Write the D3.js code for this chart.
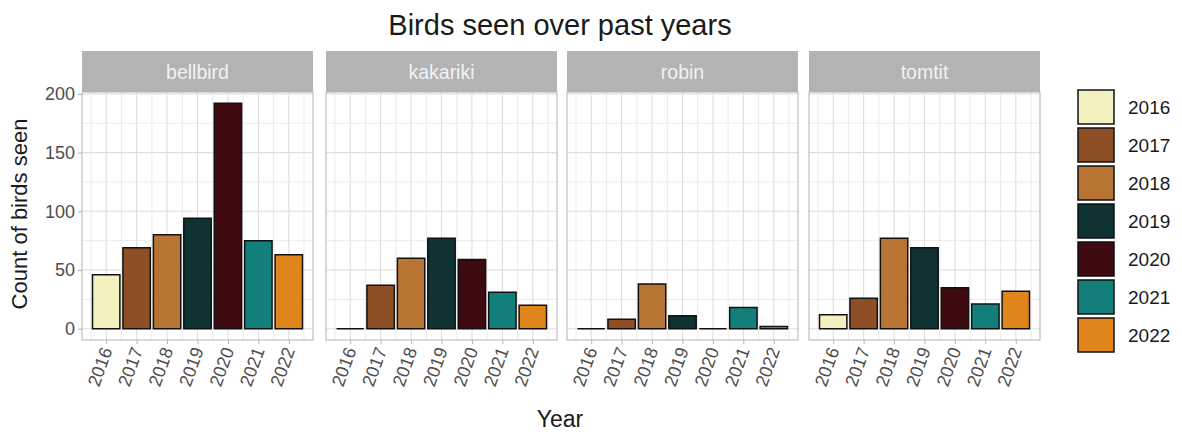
<!DOCTYPE html>
<html><head><meta charset="utf-8">
<script src="https://cdn.jsdelivr.net/npm/d3@7"></script>
<style>body{margin:0;background:#fff;} text{font-family:"Liberation Sans",Arial,sans-serif;}</style>
</head><body>
<svg id="chart" width="1182" height="432"></svg>
<script>
const birds = ["bellbird", "kakariki", "robin", "tomtit"];
const years = [2016, 2017, 2018, 2019, 2020, 2021, 2022];
const bellbird = [46, 69, 80, 94, 192, 75, 63];
const kakariki = [0, 37, 60, 77, 59, 31, 20];
const robin = [0, 8, 38, 11, 0, 18, 2];
const tomtit = [12, 26, 77, 69, 35, 21, 32];
const yearColors = ["#f3f0bf", "#8e4f26", "#b87433", "#0f3232", "#3d0b10", "#127f7b", "#e0841c"];
const yTicks = [0, 50, 100, 150, 200];
const yMinor = [25, 75, 125, 175];
const seriesByBird = {bellbird, kakariki, robin, tomtit};

const svg = d3.select("#chart");
const panelLeft = [82, 326, 567, 809];
const panelW = 231;
const stripTop = 51, panelTop = 92, panelBottom = 340;

const barW = 0.9;
const xmin = years[0] - barW/2, xmax = years[years.length-1] + barW/2;
const xpad = (xmax - xmin) * 0.05;
const allVals = [].concat(bellbird, kakariki, robin, tomtit);
const ymax = d3.max(allVals), ypad = ymax * 0.05;
const y = d3.scaleLinear().domain([-ypad, ymax + ypad]).range([panelBottom, panelTop]);
const color = d3.scaleOrdinal().domain(years).range(yearColors);

// title
svg.append("text").attr("x", 560).attr("y", 35).attr("text-anchor", "middle")
  .attr("font-size", 29).attr("fill", "#1a1a1a").text("Birds seen over past years");

birds.forEach((b, i) => {
  const x = d3.scaleLinear().domain([xmin - xpad, xmax + xpad]).range([panelLeft[i], panelLeft[i] + panelW]);
  const g = svg.append("g");
  // strip
  g.append("rect").attr("x", panelLeft[i]).attr("y", stripTop).attr("width", panelW).attr("height", panelTop - stripTop).attr("fill", "#b3b3b3");
  g.append("text").attr("x", panelLeft[i] + panelW/2).attr("y", (stripTop + panelTop)/2 + 7).attr("text-anchor", "middle")
    .attr("font-size", 19.5).attr("fill", "#f2f2f2").text(b);
  // minor grid
  const xMinor = years.map(d => d - 0.5).concat([years[years.length-1] + 0.5]);
  g.selectAll(".ymin").data(yMinor).join("line").attr("x1", panelLeft[i]).attr("x2", panelLeft[i] + panelW)
    .attr("y1", d => y(d)).attr("y2", d => y(d)).attr("stroke", "#e6e6e6").attr("stroke-width", 0.8);
  g.selectAll(".xmin").data(xMinor).join("line").attr("y1", panelTop).attr("y2", panelBottom)
    .attr("x1", d => x(d)).attr("x2", d => x(d)).attr("stroke", "#e6e6e6").attr("stroke-width", 0.8);
  // major grid
  g.selectAll(".ymaj").data(yTicks).join("line").attr("x1", panelLeft[i]).attr("x2", panelLeft[i] + panelW)
    .attr("y1", d => y(d)).attr("y2", d => y(d)).attr("stroke", "#dedede").attr("stroke-width", 1.1);
  g.selectAll(".xmaj").data(years).join("line").attr("y1", panelTop).attr("y2", panelBottom)
    .attr("x1", d => x(d)).attr("x2", d => x(d)).attr("stroke", "#dedede").attr("stroke-width", 1.1);
  // bars (paths so zero-height bars still show their outline)
  const vals = seriesByBird[b];
  g.selectAll(".bar").data(years.map((yr, k) => ({yr, v: vals[k]}))).join("path")
    .attr("d", d => {
      const x0 = x(d.yr - barW/2), x1 = x(d.yr + barW/2), y0 = y(0), y1 = y(d.v);
      return `M${x0},${y0}L${x0},${y1}L${x1},${y1}L${x1},${y0}Z`;
    })
    .attr("fill", d => color(d.yr)).attr("stroke", "#111").attr("stroke-width", 1.5);
  // panel border
  g.append("rect").attr("x", panelLeft[i]).attr("y", panelTop).attr("width", panelW).attr("height", panelBottom - panelTop)
    .attr("fill", "none").attr("stroke", "#b3b3b3").attr("stroke-width", 1);
  // x axis
  const xa = g.append("g").attr("transform", `translate(0,${panelBottom})`)
    .call(d3.axisBottom(x).tickValues(years).tickFormat(d3.format("d")).tickSize(4).tickPadding(3));
  xa.select(".domain").remove();
  xa.selectAll(".tick line").attr("stroke", "#b3b3b3");
  xa.selectAll(".tick text").attr("font-size", 18).attr("fill", "#4d4d4d")
    .attr("text-anchor", "end").attr("dy", "0.35em")
    .attr("transform", "translate(0,8) rotate(-70)").attr("x", 0).attr("y", 0);
  if (i === 0) {
    const ya = g.append("g").attr("transform", `translate(${panelLeft[i]},0)`)
      .call(d3.axisLeft(y).tickValues(yTicks).tickSize(4).tickPadding(3));
    ya.select(".domain").remove();
    ya.selectAll(".tick line").attr("stroke", "#b3b3b3");
    ya.selectAll(".tick text").attr("font-size", 18).attr("fill", "#4d4d4d");
  }
});

// axis titles
svg.append("text").attr("x", 560).attr("y", 427).attr("text-anchor", "middle").attr("font-size", 23).attr("fill", "#1a1a1a").text("Year");
svg.append("text").attr("transform", `translate(27,${(panelTop+panelBottom)/2 - 2}) rotate(-90)`).attr("text-anchor", "middle")
  .attr("font-size", 22).attr("fill", "#1a1a1a").text("Count of birds seen");

// legend
const lg = svg.append("g");
years.forEach((yr, k) => {
  const top = 90 + k * 38;
  lg.append("rect").attr("x", 1078).attr("y", top).attr("width", 36).attr("height", 34)
    .attr("fill", color(yr)).attr("stroke", "#111").attr("stroke-width", 1.5);
  lg.append("text").attr("x", 1128).attr("y", top + 17 + 7).attr("font-size", 19).attr("fill", "#1a1a1a").text(yr);
});
</script>
</body></html>
